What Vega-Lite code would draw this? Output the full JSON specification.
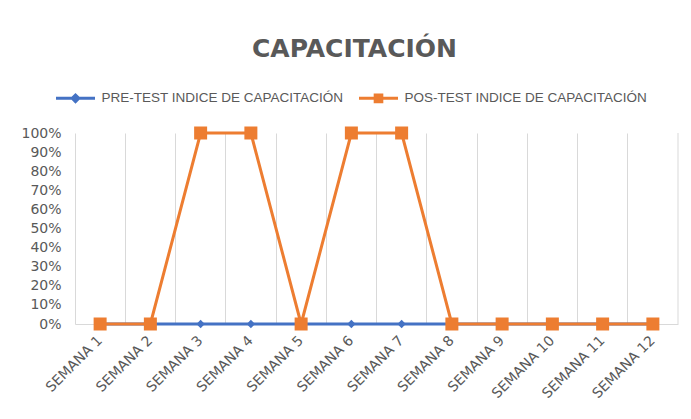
{
"$schema": "https://vega.github.io/schema/vega-lite/v6.json",
"width": 603,
"height": 191,
"autosize": "none",
"padding": {"left": 75, "top": 133, "right": 13, "bottom": 95},
"background": "white",
"title": {"text": "CAPACITACIÓN", "fontSize": 25, "fontWeight": "bold", "color": "#595959", "font": "DejaVu Sans", "anchor": "middle", "offset": 15, "dx": -22},
"config": {"view": {"stroke": null}},
"data": {"values": [
{"week": "SEMANA 1", "series": "PRE-TEST INDICE DE CAPACITACIÓN", "v": 0},
{"week": "SEMANA 2", "series": "PRE-TEST INDICE DE CAPACITACIÓN", "v": 0},
{"week": "SEMANA 3", "series": "PRE-TEST INDICE DE CAPACITACIÓN", "v": 0},
{"week": "SEMANA 4", "series": "PRE-TEST INDICE DE CAPACITACIÓN", "v": 0},
{"week": "SEMANA 5", "series": "PRE-TEST INDICE DE CAPACITACIÓN", "v": 0},
{"week": "SEMANA 6", "series": "PRE-TEST INDICE DE CAPACITACIÓN", "v": 0},
{"week": "SEMANA 7", "series": "PRE-TEST INDICE DE CAPACITACIÓN", "v": 0},
{"week": "SEMANA 8", "series": "PRE-TEST INDICE DE CAPACITACIÓN", "v": 0},
{"week": "SEMANA 9", "series": "PRE-TEST INDICE DE CAPACITACIÓN", "v": 0},
{"week": "SEMANA 10", "series": "PRE-TEST INDICE DE CAPACITACIÓN", "v": 0},
{"week": "SEMANA 11", "series": "PRE-TEST INDICE DE CAPACITACIÓN", "v": 0},
{"week": "SEMANA 12", "series": "PRE-TEST INDICE DE CAPACITACIÓN", "v": 0},
{"week": "SEMANA 1", "series": "POS-TEST INDICE DE CAPACITACIÓN", "v": 0},
{"week": "SEMANA 2", "series": "POS-TEST INDICE DE CAPACITACIÓN", "v": 0},
{"week": "SEMANA 3", "series": "POS-TEST INDICE DE CAPACITACIÓN", "v": 1},
{"week": "SEMANA 4", "series": "POS-TEST INDICE DE CAPACITACIÓN", "v": 1},
{"week": "SEMANA 5", "series": "POS-TEST INDICE DE CAPACITACIÓN", "v": 0},
{"week": "SEMANA 6", "series": "POS-TEST INDICE DE CAPACITACIÓN", "v": 1},
{"week": "SEMANA 7", "series": "POS-TEST INDICE DE CAPACITACIÓN", "v": 1},
{"week": "SEMANA 8", "series": "POS-TEST INDICE DE CAPACITACIÓN", "v": 0},
{"week": "SEMANA 9", "series": "POS-TEST INDICE DE CAPACITACIÓN", "v": 0},
{"week": "SEMANA 10", "series": "POS-TEST INDICE DE CAPACITACIÓN", "v": 0},
{"week": "SEMANA 11", "series": "POS-TEST INDICE DE CAPACITACIÓN", "v": 0},
{"week": "SEMANA 12", "series": "POS-TEST INDICE DE CAPACITACIÓN", "v": 0}
]},
"encoding": {
"x": {"field": "week", "type": "ordinal", "sort": null,
 "scale": {"type": "band", "paddingInner": 0, "paddingOuter": 0, "domain": ["SEMANA 1", "SEMANA 2", "SEMANA 3", "SEMANA 4", "SEMANA 5", "SEMANA 6", "SEMANA 7", "SEMANA 8", "SEMANA 9", "SEMANA 10", "SEMANA 11", "SEMANA 12"]},
 "axis": {"title": null, "bandPosition": 0, "grid": true, "gridColor": "#d9d9d9", "gridWidth": 1, "domainColor": "#d9d9d9", "domainWidth": 1, "ticks": false, "labelAngle": -45, "labelAlign": "right", "labelBaseline": "middle", "labelColor": "#595959", "labelFont": "DejaVu Sans", "labelFontSize": 14, "labelPadding": 14}},
"y": {"field": "v", "type": "quantitative",
 "scale": {"domain": [0, 1]},
 "axis": {"title": null, "grid": false, "domain": false, "ticks": false, "values": [0, 0.1, 0.2, 0.3, 0.4, 0.5, 0.6, 0.7, 0.8, 0.9, 1], "format": ".0%", "labelColor": "#595959", "labelFont": "DejaVu Sans", "labelFontSize": 14, "labelPadding": 14}}
},
"layer": [
{"transform": [{"filter": "datum.week == 'SEMANA 12' && indexof(datum.series, 'PRE') == 0"}],
 "mark": {"type": "rule", "color": "#d9d9d9", "strokeWidth": 1},
 "encoding": {"x": {"field": "week", "type": "ordinal", "bandPosition": 1}, "y": {"value": 0}, "y2": {"value": 191}}},
{"mark": {"type": "line", "strokeWidth": 3},
 "encoding": {"color": {"field": "series", "type": "nominal", "scale": {"domain": ["PRE-TEST INDICE DE CAPACITACIÓN", "POS-TEST INDICE DE CAPACITACIÓN"], "range": ["#4472C4", "#ED7D31"]},
   "legend": {"title": null, "orient": "none", "legendX": -20.5, "legendY": -56, "direction": "horizontal", "columns": 2, "columnPadding": 9, "labelColor": "#595959", "labelFont": "Liberation Sans", "labelFontSize": 13.5, "labelLimit": 400, "symbolSize": 1521, "symbolStrokeWidth": 3, "labelOffset": 5,
    "encode": {"symbols": {"update": {"shape": {"signal": "indexof(datum.value, 'PRE') == 0 ? 'M-1,0H1M0,-0.17L0.17,0L0,0.17L-0.17,0Z' : 'M-1,0H1M-0.17,-0.17H0.17V0.17H-0.17Z'"}, "strokeWidth": {"value": 3}, "fill": {"signal": "scale('color', datum.value)"}, "stroke": {"signal": "scale('color', datum.value)"}, "opacity": {"value": 1}, "fillOpacity": {"value": 1}}}}}}}},
{"transform": [{"filter": "indexof(datum.series, 'PRE') == 0"}],
 "mark": {"type": "point", "filled": true, "opacity": 1, "shape": "diamond", "size": 70, "color": "#4472C4"}},
{"transform": [{"filter": "indexof(datum.series, 'POS') == 0"}],
 "mark": {"type": "point", "filled": true, "opacity": 1, "shape": "square", "size": 169, "color": "#ED7D31"}}
]
}
